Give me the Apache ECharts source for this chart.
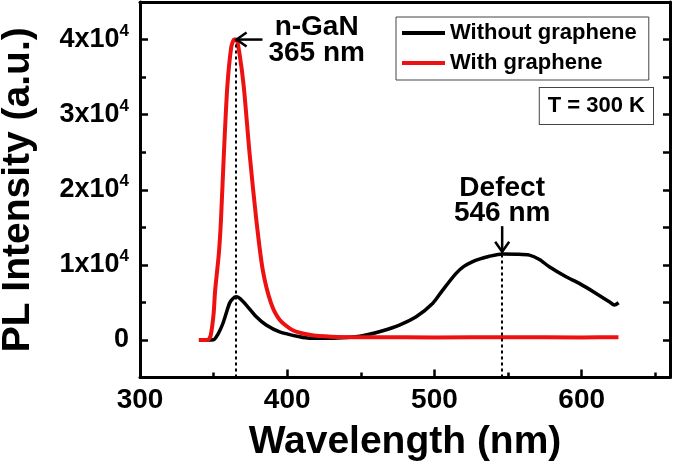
<!DOCTYPE html>
<html><head><meta charset="utf-8">
<script src="https://cdn.jsdelivr.net/npm/echarts@6/dist/echarts.min.js"></script>
<style>html,body{margin:0;padding:0;background:#fff}#c{width:675px;height:475px}</style>
</head><body><div id="c"></div>
<script>
// ---- data ----
const seriesNames = ['Without graphene', 'With graphene'];
const wlWithout  = [340, 350, 353, 356.3, 360.8, 363, 365.4, 368, 372.2, 379, 385.7, 394.8, 408.4, 415, 431, 445, 453.6, 464.9, 476.2, 487.6, 498.9, 505.6, 514.7, 520, 526, 531, 537.3, 546.4, 556, 564.5, 571.3, 578, 589.4, 598.4, 609.8, 618.8, 622.2, 625.1];
const intWithout = [0, 50, 800, 2200, 4900, 5500, 5750, 5500, 4650, 3100, 2000, 1100, 440, 250, 250, 400, 660, 1240, 2000, 3100, 4900, 6650, 8870, 9800, 10450, 10800, 11150, 11440, 11420, 11300, 10730, 9750, 8420, 7540, 6210, 5090, 4650, 4960];
const wlWith  = [340, 346, 348, 350, 351, 353.6, 355, 357, 359.3, 362, 364, 365.4, 367.6, 370.5, 374.4, 379, 383.4, 389, 394.8, 403.8, 415, 430, 460, 500, 550, 600, 625];
const intWith = [0, 0, 600, 3500, 6500, 11600, 16000, 24900, 33700, 39000, 40000, 40000, 38100, 33700, 24900, 16000, 9300, 4900, 2700, 1300, 700, 450, 380, 350, 360, 350, 380];
const xTicks = [300, 400, 500, 600];
const xMinor = [350, 450, 550, 650];
const yTicks = [0, 10000, 20000, 30000, 40000];
const yMinor = [5000, 15000, 25000, 35000];
const peakWl  = [365, 546];
const peakInt = [40000, 11440];
const annoLines = [['n-GaN', '365 nm'], ['Defect', '546 nm']];
const tempLabel = 'T = 300 K';

const FF = '"Liberation Sans", Arial, sans-serif';
const colors = ['#000000', '#ee1111'];

const chart = echarts.init(document.getElementById('c'), null, {renderer: 'canvas'});

function pairs(xs, ys) { return xs.map((x, i) => [x, ys[i]]); }

const xBase = {type: 'value', min: 300, max: 660, splitLine: {show: false}, gridIndex: 0};
const yBase = {type: 'value', min: -5000, max: 45000, splitLine: {show: false}, gridIndex: 0};

const option = {
  animation: false,
  backgroundColor: '#fff',
  grid: {left: 140, right: 5, top: 2, bottom: 97.4, containLabel: false, outerBoundsMode: 'none'},
  xAxis: [
    Object.assign({}, xBase, {
      position: 'bottom',
      axisLine: {show: true, onZero: false, lineStyle: {color: '#000', width: 3}},
      axisTick: {show: true, inside: true, length: 8, customValues: xTicks, lineStyle: {color: '#000', width: 2.5}},
      axisLabel: {show: true, customValues: xTicks, margin: 9, color: '#000', fontSize: 28, fontWeight: 'bold', fontFamily: FF},
      name: 'Wavelength (nm)', nameLocation: 'middle', nameGap: 45,
      nameTextStyle: {color: '#000', fontSize: 39, fontWeight: 'bold', fontFamily: FF}
    }),
    Object.assign({}, xBase, {
      position: 'bottom',
      axisLine: {show: false, onZero: false},
      axisTick: {show: true, inside: true, length: 5, customValues: xMinor, lineStyle: {color: '#000', width: 2.5}},
      axisLabel: {show: false}
    }),
    Object.assign({}, xBase, {
      position: 'top',
      axisLine: {show: true, onZero: false, lineStyle: {color: '#000', width: 3}},
      axisTick: {show: false}, axisLabel: {show: false}
    })
  ],
  yAxis: [
    Object.assign({}, yBase, {
      position: 'left',
      axisLine: {show: true, onZero: false, lineStyle: {color: '#000', width: 3}},
      axisTick: {show: true, inside: true, length: 8, customValues: yTicks, lineStyle: {color: '#000', width: 2.5}},
      axisLabel: {
        show: true, customValues: yTicks, margin: 11, color: '#000',
        formatter: v => v === 0 ? '{n|0}' : '{n|' + (v / 10000) + 'x10}{s|4}',
        rich: {
          n: {fontSize: 27, fontWeight: 'bold', fontFamily: FF, color: '#000', lineHeight: 34},
          s: {fontSize: 17, fontWeight: 'bold', fontFamily: FF, color: '#000', verticalAlign: 'top', lineHeight: 17}
        }
      },
      name: 'PL Intensity (a.u.)', nameLocation: 'middle', nameGap: 102,
      nameTextStyle: {color: '#000', fontSize: 39, fontWeight: 'bold', fontFamily: FF}
    }),
    Object.assign({}, yBase, {
      position: 'left',
      axisLine: {show: false, onZero: false},
      axisTick: {show: true, inside: true, length: 6, customValues: yMinor, lineStyle: {color: '#000', width: 2.5}},
      axisLabel: {show: false}
    }),
    Object.assign({}, yBase, {
      position: 'right',
      axisLine: {show: true, onZero: false, lineStyle: {color: '#000', width: 3}},
      axisTick: {show: true, inside: true, length: 7, customValues: yTicks.concat(yMinor), lineStyle: {color: '#000', width: 2.5}},
      axisLabel: {show: false}
    })
  ],
  legend: {
    show: true, orient: 'vertical', left: 396, top: 17,
    padding: [5, 12, 6, 6], itemGap: 8,
    itemWidth: 43, itemHeight: 4, icon: 'rect',
    borderColor: '#444', borderWidth: 1, backgroundColor: '#fff',
    textStyle: {color: '#000', fontSize: 22, fontWeight: 'bold', fontFamily: FF, lineHeight: 22},
    data: seriesNames
  },
  series: [
    {
      name: seriesNames[0], type: 'line', xAxisIndex: 0, yAxisIndex: 0,
      data: pairs(wlWithout, intWithout), showSymbol: false, symbol: 'none', smooth: 0.25,
      lineStyle: {color: colors[0], width: 3.5}, itemStyle: {color: colors[0]}, z: 3,
      markLine: {
        silent: true, symbol: ['none', 'none'], label: {show: false},
        lineStyle: {color: '#000', width: 2, type: [3, 3]},
        data: peakWl.map((w, i) => [{coord: [w, -5000]}, {coord: [w, peakInt[i]]}])
      }
    },
    {
      name: seriesNames[1], type: 'line', xAxisIndex: 0, yAxisIndex: 0,
      data: pairs(wlWith, intWith), showSymbol: false, symbol: 'none', smooth: 0.25,
      lineStyle: {color: colors[1], width: 4}, itemStyle: {color: colors[1]}, z: 4
    }
  ]
};
chart.setOption(option);

// ---- annotations placed through the axes ----
const P = (x, y) => chart.convertToPixel({xAxisIndex: 0, yAxisIndex: 0}, [x, y]);
const g = [];
function arrow(from, to) {
  const a = P(from[0], from[1]), b = P(to[0], to[1]);
  const dx = b[0] - a[0], dy = b[1] - a[1];
  const L = Math.hypot(dx, dy), ux = dx / L, uy = dy / L;
  const back = 10, half = 7;
  const h1 = [b[0] - ux * back - uy * half, b[1] - uy * back + ux * half];
  const h2 = [b[0] - ux * back + uy * half, b[1] - uy * back - ux * half];
  g.push({type: 'polyline', shape: {points: [a, b]}, style: {stroke: '#000', lineWidth: 2.5, fill: null}, z: 10});
  g.push({type: 'polyline', shape: {points: [h1, b, h2]}, style: {stroke: '#000', lineWidth: 2.5, fill: null}, z: 10});
}
function label(txt, x, y) {
  const p = P(x, y);
  g.push({type: 'text', x: p[0], y: p[1], z: 10,
    style: {text: txt, fill: '#000', font: 'bold 28px ' + FF, align: 'center', verticalAlign: 'middle'}});
}
arrow([383.2, 40000], [365.6, 40000]);
label(annoLines[0][0], 420, 41630);
label(annoLines[0][1], 420, 38170);
arrow([546, 15160], [546, 11750]);
label(annoLines[1][0], 546, 20220);
label(annoLines[1][1], 546, 16890);
g.push({type: 'text', right: 21, top: 87, z: 10,
  style: {text: tempLabel, fill: '#000', font: 'bold 22px ' + FF, lineHeight: 22,
    padding: [7, 8, 7, 8], borderColor: '#444', borderWidth: 1, backgroundColor: '#fff'}});
chart.setOption({graphic: g});
</script>
</body></html>
